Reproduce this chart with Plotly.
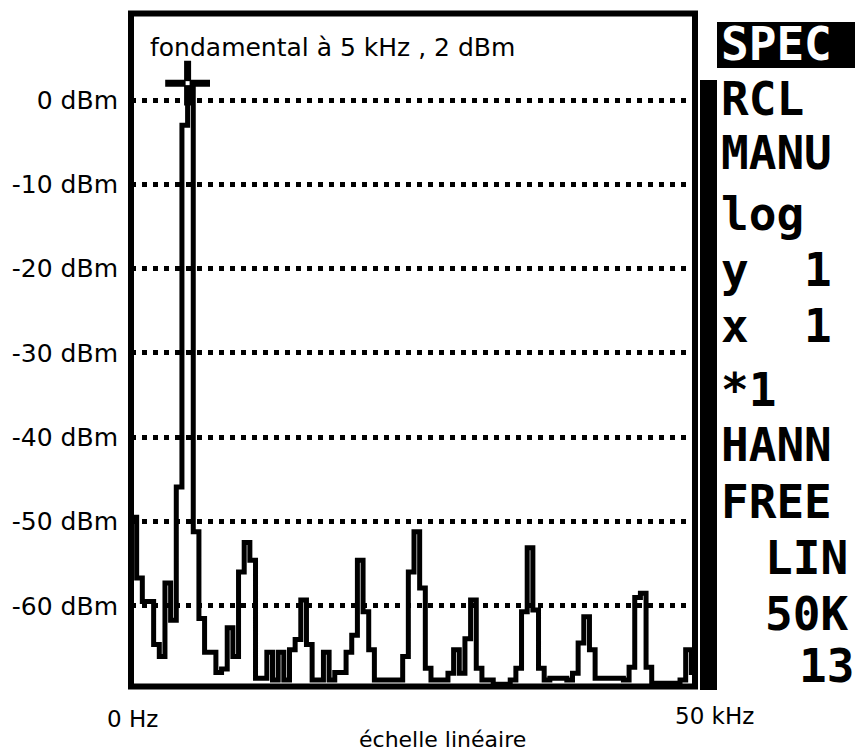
import plotly.graph_objects as go

# ---- data ----
freq_khz = [0.0, 0.5, 1.0, 1.5, 2.0, 2.5, 3.0, 3.5, 4.0, 4.5,
            5.0, 5.5, 6.0, 6.5, 7.0, 7.5, 8.0, 8.5, 9.0, 9.5,
            10.0, 10.5, 11.0, 11.5, 12.0, 12.5, 13.0, 13.5, 14.0, 14.5,
            15.0, 15.5, 16.0, 16.5, 17.0, 17.5, 18.0, 18.5, 19.0, 19.5,
            20.0, 20.5, 21.0, 21.5, 22.0, 22.5, 23.0, 23.5, 24.0, 24.5,
            25.0, 25.5, 26.0, 26.5, 27.0, 27.5, 28.0, 28.5, 29.0, 29.5,
            30.0, 30.5, 31.0, 31.5, 32.0, 32.5, 33.0, 33.5, 34.0, 34.5,
            35.0, 35.5, 36.0, 36.5, 37.0, 37.5, 38.0, 38.5, 39.0, 39.5,
            40.0, 40.5, 41.0, 41.5, 42.0, 42.5, 43.0, 43.5, 44.0, 44.5,
            45.0, 45.5, 46.0, 46.5, 47.0, 47.5, 48.0, 48.5, 49.0, 49.5,
            50.0]

level_dbm = [-49.5, -56.7, -59.5, -59.5, -64.6, -66.0, -57.3, -61.7, -45.9, -3.0,
             2.0, -51.2, -61.5, -65.5, -65.5, -67.9, -67.5, -62.6, -66.0, -56.0,
             -52.5, -54.6, -68.6, -68.6, -65.5, -68.8, -65.5, -68.8, -65.2, -64.0,
             -59.3, -64.6, -68.8, -68.8, -65.5, -68.8, -67.9, -67.9, -65.5, -63.5,
             -54.6, -60.7, -65.2, -68.8, -68.8, -68.8, -68.8, -68.8, -66.0, -56.0,
             -51.2, -57.9, -67.4, -68.8, -68.8, -68.8, -68.0, -65.2, -68.0, -63.9,
             -59.3, -67.4, -68.8, -68.8, -69.3, -69.3, -69.3, -68.8, -67.4, -60.7,
             -53.1, -60.5, -67.4, -68.8, -68.6, -68.6, -68.6, -68.8, -68.0, -64.4,
             -61.3, -65.2, -68.6, -68.6, -68.6, -68.6, -68.6, -68.8, -67.3, -59.0,
             -58.5, -67.3, -69.2, -69.2, -69.2, -69.2, -69.2, -68.8, -65.2, -67.9,
             -65.2]

marker_freq = [5.0]
marker_level = [2.0]

ytick_vals = [0, -10, -20, -30, -40, -50, -60]
ytick_text = ["0 dBm", "-10 dBm", "-20 dBm", "-30 dBm", "-40 dBm", "-50 dBm", "-60 dBm"]

title_text = "fondamental à 5 kHz , 2 dBm"
x_left_label = "0 Hz"
x_right_label = "50 kHz"
x_title = "échelle linéaire"
menu_items = ["SPEC", "RCL", "MANU", "log", "y\u00a0\u00a01", "x\u00a0\u00a01", "*1",
              "HANN", "FREE", "LIN", "50K", "13"]

# ---- layout geometry (pixels) ----
W, H = 857, 756
PL, PR, PT, PB = 131, 697, 13, 687


def px_x(p):
    return (p - PL) / (PR - PL)


def px_y(p):
    return (PB - p) / (PB - PT)


fig = go.Figure()

fig.add_trace(go.Scatter(
    x=freq_khz, y=level_dbm, mode="lines",
    line=dict(color="black", width=5, shape="hv"),
    hoverinfo="skip", showlegend=False))

fig.add_trace(go.Scatter(
    x=marker_freq, y=marker_level, mode="markers",
    marker=dict(symbol="cross-thin", size=32, color="black",
                line=dict(color="black", width=7)),
    hoverinfo="skip", showlegend=False))
fig.add_trace(go.Scatter(
    x=marker_freq, y=marker_level, mode="markers",
    marker=dict(symbol="square", size=4, color="white", line=dict(width=0)),
    hoverinfo="skip", showlegend=False))

fig.update_layout(
    width=W, height=H, autosize=False,
    margin=dict(l=PL, r=W - PR, t=PT, b=H - PB, pad=0),
    paper_bgcolor="white", plot_bgcolor="white",
    showlegend=False,
    xaxis=dict(range=[0, 50], showgrid=False, zeroline=False,
               showticklabels=False, ticks="", showline=False, fixedrange=True),
    yaxis=dict(range=[-69.63, 10.32], tickvals=ytick_vals, ticktext=ytick_text,
               showgrid=True, gridcolor="black", gridwidth=5, griddash="5px,6px",
               zeroline=False, ticks="", showline=False, ticklabelstandoff=12,
               tickfont=dict(family="DejaVu Sans", size=25, color="black"),
               fixedrange=True),
)

shapes = [
    # frame
    dict(type="rect", xref="paper", yref="paper",
         x0=0, x1=px_x(695), y0=px_y(686.5), y1=px_y(13.5),
         line=dict(color="black", width=6), layer="above"),
    # thick side bar
    dict(type="rect", xref="paper", yref="paper",
         x0=px_x(700), x1=px_x(717), y0=px_y(690), y1=px_y(80),
         fillcolor="black", line=dict(width=0), layer="above"),
    # highlighted menu box
    dict(type="rect", xref="paper", yref="paper",
         x0=px_x(717), x1=px_x(855), y0=px_y(68), y1=px_y(22),
         fillcolor="black", line=dict(width=0), layer="above"),
]
fig.update_layout(shapes=shapes)

annotations = [
    dict(text=title_text, x=px_x(148), y=px_y(48), xanchor="left", yanchor="middle",
         font=dict(family="DejaVu Sans", size=25, color="black")),
    dict(text=x_left_label, x=px_x(132), y=px_y(719), xanchor="center", yanchor="middle",
         font=dict(family="DejaVu Sans", size=23, color="black")),
    dict(text=x_right_label, x=px_x(714), y=px_y(716), xanchor="center", yanchor="middle",
         font=dict(family="DejaVu Sans", size=23, color="black")),
    dict(text=x_title, x=px_x(442), y=px_y(740), xanchor="center", yanchor="middle",
         font=dict(family="DejaVu Sans", size=22, color="black")),
]

menu_y = [44, 99, 153, 214, 270, 326, 390, 445, 502, 558, 614, 666]
# (x position, anchor) for each menu line
menu_pos = [(719, "left")] * 9 + [(806, "center"), (806, "center"), (826, "center")]
for txt, yc, (xp, anc) in zip(menu_items, menu_y, menu_pos):
    annotations.append(dict(
        text=txt, x=px_x(xp), y=px_y(yc),
        xanchor=anc, yanchor="middle",
        font=dict(family="DejaVu Sans Mono", size=46, weight="bold",
                  color="white" if txt == "SPEC" else "black")))

for a in annotations:
    a.update(xref="paper", yref="paper", showarrow=False)
fig.update_layout(annotations=annotations)

fig.write_html("out.html")
